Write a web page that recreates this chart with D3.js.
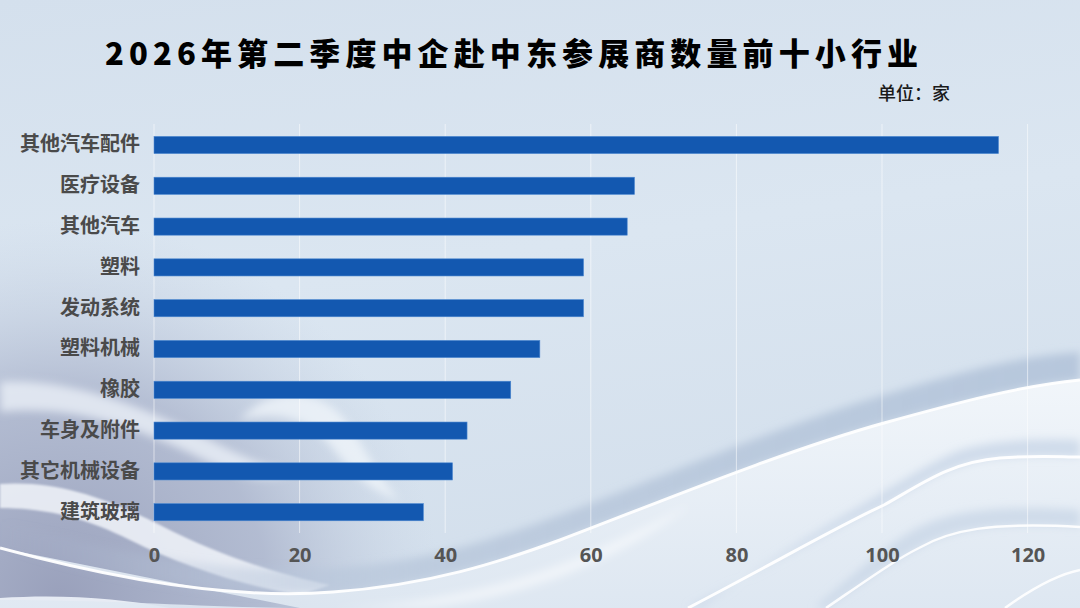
<!DOCTYPE html>
<html>
<head>
<meta charset="utf-8">
<script src="https://cdn.jsdelivr.net/npm/d3@7"></script>
<style>
html,body{margin:0;padding:0;background:#d9e4f0;}
svg{display:block;}
</style>
</head>
<body>
<svg id="chart" width="1080" height="608"></svg>
<script>
const categories = ["其他汽车配件","医疗设备","其他汽车","塑料","发动系统","塑料机械","橡胶","车身及附件","其它机械设备","建筑玻璃"];
const values = [116, 66, 65, 59, 59, 53, 49, 43, 41, 37];
const tickValues = [0, 20, 40, 60, 80, 100, 120];
const titleText = "2026年第二季度中企赴中东参展商数量前十小行业";
const unitText = "单位：家";

const W = 1080, H = 608;
const svg = d3.select("#chart");
const defs = svg.append("defs");

function lin(id, x2, y2, stops) {
  const gr = defs.append("linearGradient").attr("id", id).attr("x1", 0).attr("y1", 0).attr("x2", x2).attr("y2", y2);
  stops.forEach(s => gr.append("stop").attr("offset", s[0]).attr("stop-color", s[1]).attr("stop-opacity", s[2] == null ? 1 : s[2]));
}
function rad(id, cx, cy, r, stops) {
  const gr = defs.append("radialGradient").attr("id", id).attr("gradientUnits", "userSpaceOnUse")
    .attr("cx", cx).attr("cy", cy).attr("r", r);
  stops.forEach(s => gr.append("stop").attr("offset", s[0]).attr("stop-color", s[1]).attr("stop-opacity", s[2] == null ? 1 : s[2]));
}
const blur = defs.append("filter").attr("id", "blur").attr("x", "-20%").attr("y", "-20%").attr("width", "140%").attr("height", "140%");
blur.append("feGaussianBlur").attr("stdDeviation", 4);
const blur2 = defs.append("filter").attr("id", "blur2").attr("x", "-20%").attr("y", "-20%").attr("width", "140%").attr("height", "140%");
blur2.append("feGaussianBlur").attr("stdDeviation", 1.2);

lin("bg", 0.25, 1, [["0%", "#d4e0ed"], ["50%", "#dbe6f1"], ["100%", "#d3dfec"]]);
rad("purp", 60, 600, 380, [["0%", "#99a0bb", 1], ["55%", "#aab3cb", 0.8], ["100%", "#c3cfe1", 0]]);
lin("ribbon", 0, 1, [["0%", "#f3f7fb", 0.95], ["100%", "#dfe8f2", 0.9]]);
lin("shadow", 1, 0, [["0%", "#b6c4da", 0.0], ["40%", "#b8c7db", 0.8], ["100%", "#b3c4da", 0.9]]);

const g = svg.append("g");
g.append("rect").attr("width", W).attr("height", H).attr("fill", "url(#bg)");
g.append("rect").attr("x", 0).attr("y", 220).attr("width", 700).attr("height", 388).attr("fill", "url(#purp)");

// left glossy ribbons
g.append("path").attr("d", "M0,382 C70,378 140,405 210,440 C250,460 270,470 300,470 C270,485 240,478 200,458 C130,424 70,405 0,412 Z")
  .attr("fill", "#eef3f9").attr("fill-opacity", 0.75).attr("filter", "url(#blur)");
g.append("path").attr("d", "M240,420 C270,385 320,388 345,420 C370,455 380,480 400,500 C370,492 350,470 330,445 C305,415 275,412 240,420 Z")
  .attr("fill", "#f4f8fc").attr("fill-opacity", 0.7).attr("filter", "url(#blur)");
g.append("path").attr("d", "M0,484 C60,480 110,500 160,525 C220,556 280,575 330,585 L300,595 C240,585 180,565 130,540 C90,520 50,508 0,508 Z")
  .attr("fill", "#f5f8fc").attr("fill-opacity", 0.8).attr("filter", "url(#blur2)");
g.append("path").attr("d", "M0,598 C60,594 120,598 170,608 L0,608 Z").attr("fill", "#eef3f9").attr("fill-opacity", 0.9);

// main rising band: shadow above, bright ribbon below
const curveA = "M0,548 C110,578 230,600 333,592 C430,585 500,562 560,540 C650,506 780,452 884,423 C960,402 1020,386 1080,380";
g.append("path").attr("d", curveA + " L1080,352 C1020,356 960,372 884,395 C780,425 650,482 560,515 C500,537 430,562 333,568 C230,575 110,552 0,520 Z")
  .attr("fill", "url(#shadow)").attr("filter", "url(#blur)");
g.append("path").attr("d", curveA + " L1080,608 L0,608 L0,600 C120,600 220,608 300,608 Z")
  .attr("fill", "url(#ribbon)");
g.append("path").attr("d", "M330,608 C420,606 520,585 600,548 C640,530 660,520 690,505 C620,560 520,600 420,608 Z")
  .attr("fill", "#ffffff").attr("fill-opacity", 0.5).attr("filter", "url(#blur)");
g.append("path").attr("d", curveA).attr("fill", "none").attr("stroke", "#ffffff").attr("stroke-width", 3).attr("stroke-opacity", 0.95);

// right nested curves
const curve2 = "M688,608 C780,560 840,525 884,505 C920,485 950,462 1000,458 C1040,455 1060,457 1080,457";
g.append("path").attr("d", curve2 + " L1080,440 C1040,438 990,440 955,452 C920,468 880,495 840,518 C790,548 740,580 700,608 Z")
  .attr("fill", "#c4d3e5").attr("fill-opacity", 0.7).attr("filter", "url(#blur)");
g.append("path").attr("d", curve2).attr("fill", "none").attr("stroke", "#ffffff").attr("stroke-width", 3).attr("stroke-opacity", 0.95);
const curve3 = "M826,608 C870,578 895,560 919,548 C950,530 990,522 1080,527";
g.append("path").attr("d", curve3 + " L1080,510 C990,504 945,512 910,532 C880,550 850,578 815,608 Z")
  .attr("fill", "#c6d4e6").attr("fill-opacity", 0.7).attr("filter", "url(#blur)");
g.append("path").attr("d", curve3).attr("fill", "none").attr("stroke", "#ffffff").attr("stroke-width", 2.5).attr("stroke-opacity", 0.9);
g.append("path").attr("d", "M1005,608 C1030,590 1055,575 1080,570").attr("fill", "none")
  .attr("stroke", "#ffffff").attr("stroke-width", 2.5).attr("stroke-opacity", 0.9);

// scales
const x = d3.scaleLinear().domain([0, 120]).range([154, 1027.6]);
const y = d3.scaleBand().domain(categories).range([124.6, 532.6]).paddingInner(0.58).paddingOuter(0.29);

// gridlines
svg.append("g").selectAll("line").data(tickValues).join("line")
  .attr("x1", d => x(d)).attr("x2", d => x(d))
  .attr("y1", 124).attr("y2", 533)
  .attr("stroke", "#ffffff").attr("stroke-opacity", 0.55).attr("stroke-width", 1);

// bars
svg.append("g").selectAll("rect").data(categories).join("rect")
  .attr("x", x(0))
  .attr("y", d => y(d))
  .attr("width", (d, i) => x(values[i]) - x(0))
  .attr("height", y.bandwidth())
  .attr("fill", "#1358b0")
  .attr("stroke", "#4a86cf").attr("stroke-width", 0.6);

// y axis labels
const yAxis = d3.axisLeft(y).tickSize(0).tickPadding(14);
const ya = svg.append("g").attr("transform", `translate(${x(0)},0)`).call(yAxis);
ya.select(".domain").remove();
ya.selectAll("text")
  .attr("font-family", "'Noto Sans CJK SC', 'Noto Sans', sans-serif")
  .attr("font-size", 20).attr("font-weight", "bold").attr("fill", "#4a4a4a");

// x axis labels
const xAxis = d3.axisBottom(x).tickValues(tickValues).tickSize(0).tickPadding(0);
const xa = svg.append("g").attr("transform", `translate(0,548)`).call(xAxis);
xa.select(".domain").remove();
xa.selectAll("text")
  .attr("font-family", "'Noto Sans', 'DejaVu Sans', sans-serif")
  .attr("font-size", 20).attr("font-weight", "bold").attr("fill", "#555")
  .attr("dy", "0.71em");

// title
svg.append("text")
  .attr("x", 105).attr("y", 65)
  .attr("textLength", 813).attr("lengthAdjust", "spacing")
  .attr("font-family", "'Noto Sans CJK SC', sans-serif")
  .attr("font-size", 31).attr("font-weight", "900").attr("fill", "#000")
  .text(titleText);

// unit
svg.append("text")
  .attr("x", 950).attr("y", 100).attr("text-anchor", "end")
  .attr("font-family", "'Noto Sans CJK SC', sans-serif")
  .attr("font-size", 18).attr("font-weight", "500").attr("fill", "#1a1a1a")
  .text(unitText);
</script>
</body>
</html>
